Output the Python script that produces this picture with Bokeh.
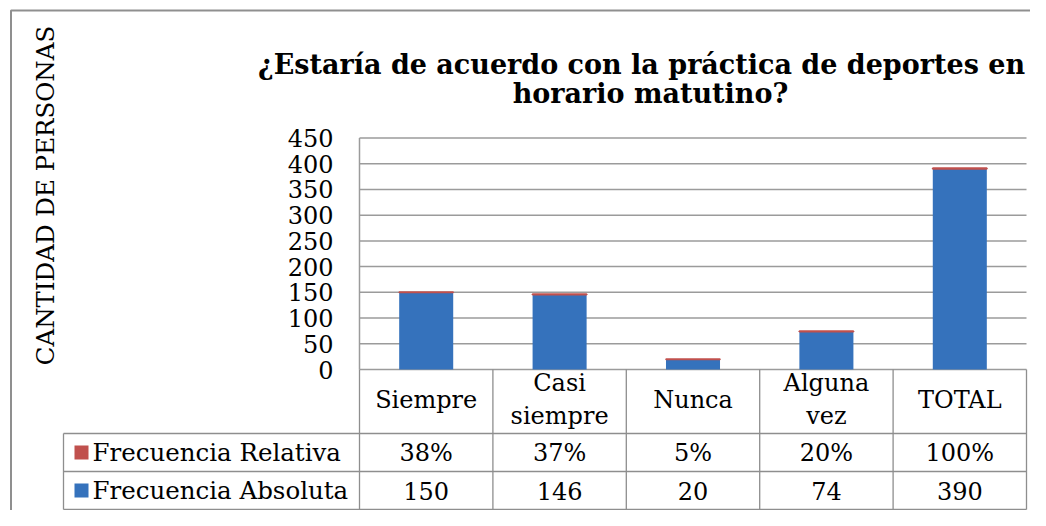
from math import pi
from bokeh.plotting import figure
from bokeh.models import Range1d
from bokeh.core.properties import value
from bokeh.embed import file_html
from bokeh.resources import INLINE

# ---------------- data ----------------
categories = ["Siempre", "Casi siempre", "Nunca", "Alguna vez", "TOTAL"]
frecuencia_absoluta = [150, 146, 20, 74, 390]
frecuencia_relativa = [0.38, 0.37, 0.05, 0.20, 1.00]
series_names = ["Frecuencia Relativa", "Frecuencia Absoluta"]
y_ticks = [0, 50, 100, 150, 200, 250, 300, 350, 400, 450]
title_lines = ["¿Estaría de acuerdo con la práctica de deportes en", "horario matutino?"]
y_label = "CANTIDAD DE PERSONAS"

# ---------------- layout (canvas pixel positions) ----------------
W, H = 1030, 510
PLOT_L, COL_W = 359.0, 133.4
Y0_PX, YTOP_PX = 369.0, 137.5
PX_PER_UNIT = (Y0_PX - YTOP_PX) / y_ticks[-1]
HEAD_B, ROW1_B, ROW2_B = 433.0, 471.0, 509.0
LEG_L = 63.0


def X(px):
    return (px - PLOT_L) / COL_W - 0.5


def Y(py):
    return (Y0_PX - py) / PX_PER_UNIT


FONT = value("DejaVu Serif")
GRID_C = "#9b9b9b"
TABLE_C = "#8e8e8e"
BLUE = "#3572BC"
RED = "#C0504D"

n = len(categories)
xs = list(range(n))
x_lo, x_hi = -0.5, n - 0.5

p = figure(width=W, height=H,
           x_range=Range1d(X(0), X(W)),
           y_range=Range1d(Y(H), Y(0)),
           output_backend="svg", toolbar_location=None,
           x_axis_type=None, y_axis_type=None, min_border=0)
p.outline_line_color = None
p.background_fill_color = "white"
p.border_fill_color = "white"

# outer chart frame (left and top edges visible)
p.line(x=[X(10.5), X(10.5), X(W + 5)], y=[Y(H + 5), Y(10), Y(10)],
       line_color="#8f8f8f", line_width=2)

# horizontal gridlines
p.segment(x0=[x_lo] * len(y_ticks), y0=y_ticks, x1=[x_hi] * len(y_ticks), y1=y_ticks,
          line_color=GRID_C, line_width=1.5)
# value axis line
p.segment(x0=[x_lo], y0=[y_ticks[0]], x1=[x_lo], y1=[y_ticks[-1]],
          line_color=GRID_C, line_width=1.5)

# tick labels
p.text(x=[X(333)] * len(y_ticks), y=y_ticks, text=[str(t) for t in y_ticks],
       text_font=FONT, text_font_size="24px", text_align="right",
       text_baseline="middle", text_color="black")

# bars
p.vbar(x=xs, bottom=0, top=frecuencia_absoluta, width=0.405,
       fill_color=BLUE, line_color=None)
p.vbar(x=xs, bottom=frecuencia_absoluta,
       top=[a + r for a, r in zip(frecuencia_absoluta, frecuencia_relativa)],
       width=0.405, fill_color=RED, line_color=RED, line_width=2)

# data table lines
col_edges = [i - 0.5 for i in range(n + 1)]
p.segment(x0=col_edges, y0=[0] * len(col_edges), x1=col_edges, y1=[Y(ROW2_B)] * len(col_edges),
          line_color=TABLE_C, line_width=1.3)
p.segment(x0=[X(LEG_L)], y0=[Y(HEAD_B)], x1=[X(LEG_L)], y1=[Y(ROW2_B)],
          line_color=TABLE_C, line_width=1.3)
row_lines = [Y(HEAD_B), Y(ROW1_B), Y(ROW2_B)]
p.segment(x0=[X(LEG_L)] * 3, y0=row_lines, x1=[x_hi] * 3, y1=row_lines,
          line_color=TABLE_C, line_width=1.3)

# header (category) labels
p.text(x=xs, y=[Y((Y0_PX + HEAD_B) / 2 - 2)] * n,
       text=[c.replace(" ", "\n") for c in categories],
       text_font=FONT, text_font_size="24px", text_align="center",
       text_baseline="middle", text_line_height=1.15, text_color="black")

# row values
row1_y = Y((HEAD_B + ROW1_B) / 2)
row2_y = Y((ROW1_B + ROW2_B) / 2)
p.text(x=xs, y=[row1_y] * n, text=[f"{round(r * 100)}%" for r in frecuencia_relativa],
       text_font=FONT, text_font_size="24px", text_align="center",
       text_baseline="middle", text_color="black")
p.text(x=xs, y=[row2_y] * n, text=[str(a) for a in frecuencia_absoluta],
       text_font=FONT, text_font_size="24px", text_align="center",
       text_baseline="middle", text_color="black")

# legend keys in table
p.scatter(x=[X(81)] * 2, y=[row1_y, row2_y], marker="square", size=14,
          fill_color=[RED, BLUE], line_color=None)
p.text(x=[X(92)] * 2, y=[row1_y, row2_y], text=series_names,
       text_font=FONT, text_font_size="24.5px", text_align="left",
       text_baseline="middle", text_color="black")

# title
p.text(x=[X(641), X(650)], y=[Y(64), Y(93)], text=title_lines,
       text_font=FONT, text_font_style="bold", text_font_size="27px",
       text_align="center", text_baseline="alphabetic", text_color="black")

# y axis label
p.text(x=[X(45)], y=[Y(195)], text=[y_label], angle=pi / 2,
       text_font=FONT, text_font_size="24.5px", text_align="center",
       text_baseline="middle", text_color="black")

open("out.html", "w").write(file_html(p, INLINE))
